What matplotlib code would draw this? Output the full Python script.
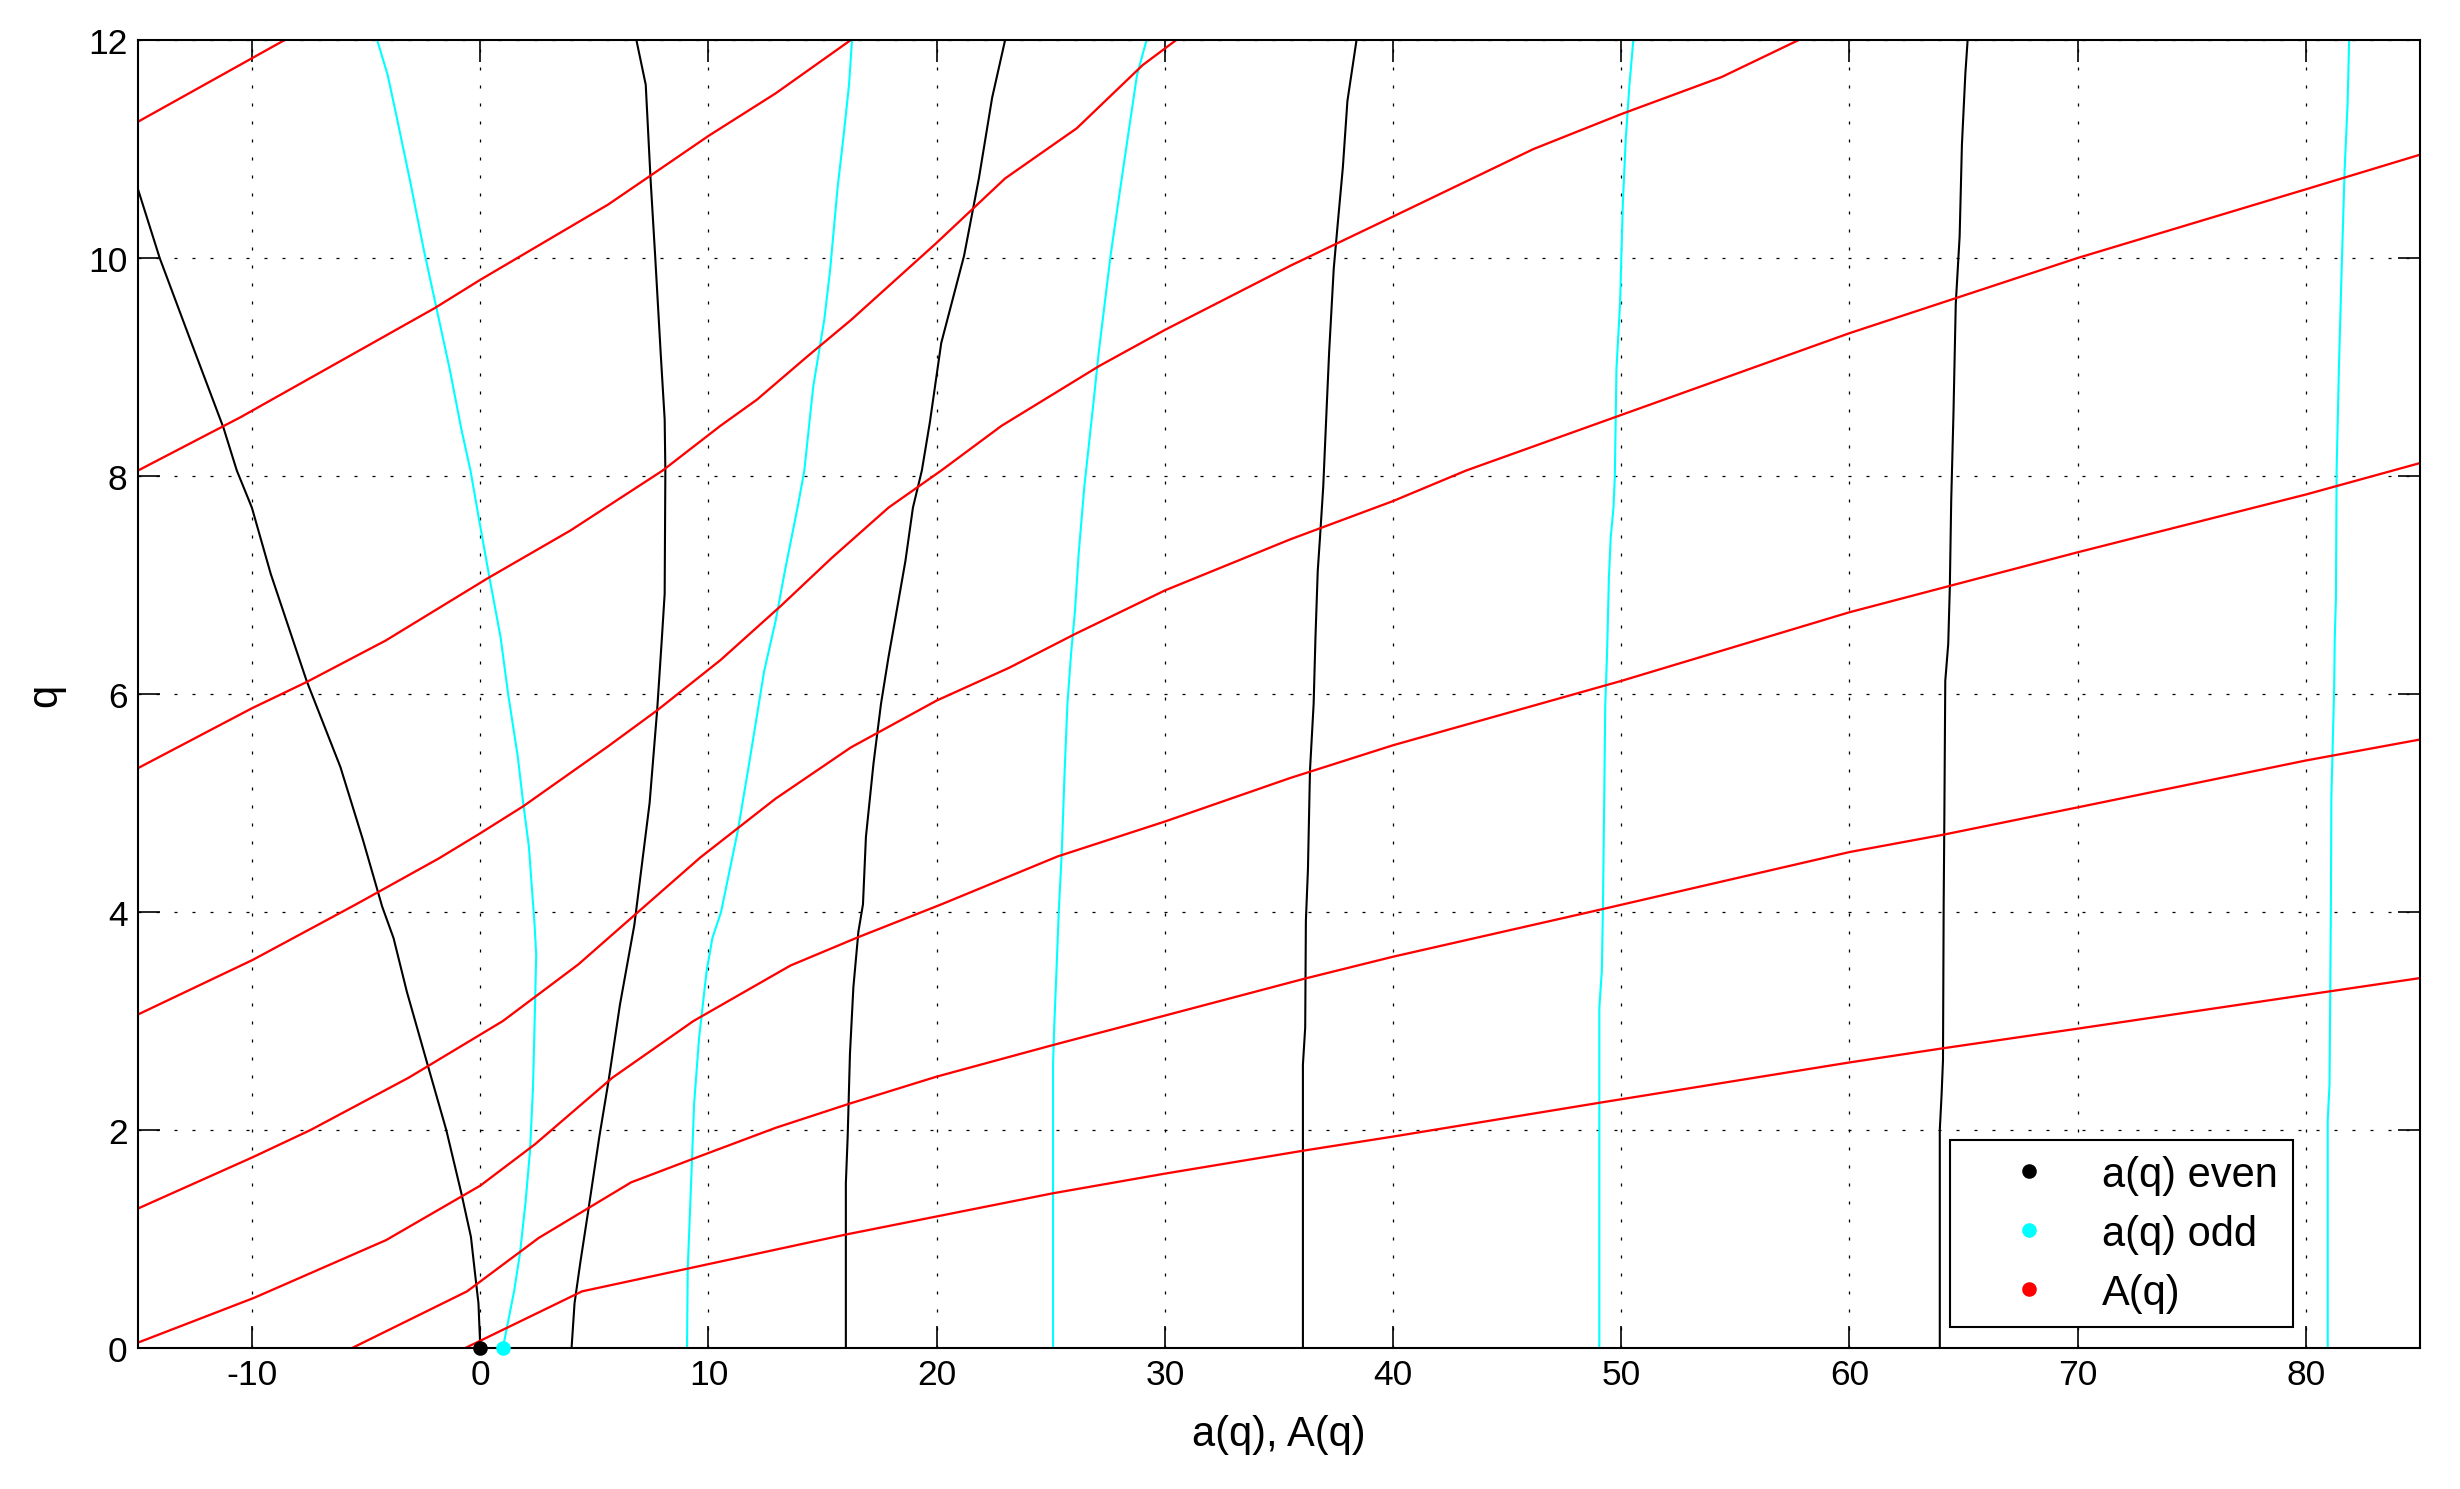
import matplotlib
matplotlib.use("Agg")
import matplotlib.pyplot as plt
from matplotlib.lines import Line2D

plt.rcParams['font.family'] = ['Liberation Sans', 'DejaVu Sans']
plt.rcParams['axes.unicode_minus'] = False

# ------------------------------------------------------------
# values, as (a, q) pairs
# ------------------------------------------------------------
# a(q) even : characteristic values a0, a2, a4, a6, a8
even_a0 = [(0, 0), (-0.08, 0.41), (-0.25, 0.72), (-0.41, 1.02), (-0.83, 1.42), (-1.49, 2.0),
           (-2.31, 2.6), (-3.22, 3.27), (-3.8, 3.76), (-4.3, 4.05), (-5.14, 4.66), (-6.13, 5.33),
           (-7.61, 6.12), (-9.18, 7.1), (-10.01, 7.71), (-10.67, 8.05), (-11.25, 8.44),
           (-12.8, 9.3), (-14.05, 10.0), (-15.0, 10.63)]
even_a2 = [(4.0, 0), (4.13, 0.41), (4.38, 0.78), (4.71, 1.23), (5.21, 1.93), (5.62, 2.45),
           (6.12, 3.15), (6.75, 3.88), (7.42, 5.0), (7.75, 5.85), (7.96, 6.52), (8.08, 6.92),
           (8.11, 8.05), (8.08, 8.52), (7.91, 9.11), (7.66, 10.03), (7.46, 10.73), (7.25, 11.59),
           (6.84, 12.0)]
even_a4 = [(16.02, 0), (16.02, 1.51), (16.1, 1.94), (16.2, 2.7), (16.35, 3.31), (16.57, 3.82),
           (16.77, 4.07), (16.9, 4.69), (17.23, 5.36), (17.56, 5.91), (17.89, 6.34), (18.22, 6.73),
           (18.63, 7.22), (18.96, 7.71), (19.35, 8.05), (19.7, 8.49), (20.2, 9.22), (21.2, 10.02),
           (21.85, 10.73), (22.43, 11.47), (23.0, 12.0)]
even_a6 = [(36.05, 0), (36.05, 2.6), (36.15, 2.94), (36.18, 3.92), (36.27, 4.39), (36.36, 5.3),
           (36.52, 5.91), (36.6, 6.52), (36.7, 7.13), (36.8, 7.44), (36.94, 7.9), (37.1, 8.67),
           (37.2, 9.14), (37.4, 9.9), (37.6, 10.37), (37.8, 10.83), (38.0, 11.44), (38.4, 12.0)]
even_a8 = [(63.96, 0), (63.96, 2.0), (64.04, 2.33), (64.1, 2.64), (64.13, 4.07), (64.16, 4.87),
           (64.2, 6.12), (64.33, 6.46), (64.4, 6.98), (64.46, 7.77), (64.56, 8.58), (64.66, 9.58),
           (64.83, 10.2), (64.93, 11.04), (65.08, 11.69), (65.18, 12.0)]

# a(q) odd : characteristic values a1, a3, a5, a7, a9
odd_a1 = [(0.99, 0), (1.49, 0.53), (1.74, 0.87), (1.98, 1.33), (2.18, 1.81), (2.31, 2.39),
          (2.4, 3.15), (2.45, 3.61), (2.38, 3.88), (2.13, 4.6), (1.88, 5.0), (1.64, 5.43),
          (1.22, 6.0), (0.89, 6.52), (0.4, 7.07), (-0.02, 7.56), (-0.43, 8.05), (-0.84, 8.44),
          (-1.34, 8.98), (-1.92, 9.54), (-2.49, 10.09), (-3.07, 10.7), (-3.65, 11.28),
          (-4.06, 11.68), (-4.52, 12.0)]
odd_a3 = [(9.06, 0), (9.09, 0.72), (9.26, 1.63), (9.37, 2.24), (9.59, 2.85), (9.92, 3.46),
          (10.17, 3.76), (10.55, 4.0), (11.29, 4.75), (11.78, 5.36), (12.44, 6.21), (12.94, 6.67),
          (13.35, 7.13), (13.93, 7.74), (14.2, 8.05), (14.59, 8.82), (15.08, 9.44), (15.33, 9.89),
          (15.66, 10.65), (15.91, 11.1), (16.16, 11.59), (16.29, 12.0)]
odd_a5 = [(25.1, 0), (25.1, 2.6), (25.15, 2.94), (25.25, 3.46), (25.35, 4.0), (25.48, 4.54),
          (25.61, 5.3), (25.73, 5.91), (25.89, 6.37), (26.06, 6.76), (26.22, 7.28), (26.47, 7.9),
          (26.87, 8.67), (27.1, 9.13), (27.62, 10.02), (27.95, 10.5), (28.37, 11.1),
          (28.78, 11.68), (29.2, 12.0)]
odd_a7 = [(49.04, 0), (49.04, 3.12), (49.1, 3.31), (49.15, 3.46), (49.2, 4.07), (49.25, 4.96),
          (49.3, 5.9), (49.38, 6.38), (49.46, 7.07), (49.54, 7.44), (49.66, 7.71), (49.72, 8.0),
          (49.79, 8.98), (49.95, 9.59), (50.07, 10.5), (50.2, 11.1), (50.36, 11.59), (50.53, 12.0)]
odd_a9 = [(80.96, 0), (80.96, 2.09), (81.04, 2.42), (81.1, 4.07), (81.12, 5.05), (81.24, 6.03),
          (81.27, 6.52), (81.32, 6.88), (81.35, 8.05), (81.45, 8.98), (81.57, 9.89), (81.7, 10.8),
          (81.83, 11.41), (81.9, 12.0)]

# A(q)
big_a1 = [(-0.66, 0), (4.46, 0.52), (15.99, 1.04), (25.1, 1.42), (30.0, 1.6), (36.05, 1.81),
          (40.0, 1.94), (49.04, 2.25), (60.0, 2.62), (64.1, 2.75), (70.0, 2.93), (80.0, 3.24),
          (85.2, 3.4)]
big_a2 = [(-5.62, 0), (-0.58, 0.52), (2.56, 1.01), (6.61, 1.52), (9.5, 1.75), (12.94, 2.02),
          (16.15, 2.24), (20.0, 2.49), (25.1, 2.78), (30.0, 3.05), (36.15, 3.39), (40.0, 3.59),
          (49.04, 4.02), (60.0, 4.55), (64.13, 4.71), (70.0, 4.96), (80.0, 5.39), (85.2, 5.59)]
big_a3 = [(-15.0, 0.05), (-9.92, 0.46), (-4.13, 0.99), (0.0, 1.49), (2.4, 1.87), (5.79, 2.48),
          (9.34, 3.0), (13.6, 3.51), (16.57, 3.77), (20.2, 4.07), (25.3, 4.51), (30.0, 4.83),
          (35.5, 5.23), (40.0, 5.53), (50.0, 6.12), (60.0, 6.75), (70.0, 7.3), (80.0, 7.83),
          (85.2, 8.13)]
big_a4 = [(-15.0, 1.28), (-9.98, 1.75), (-7.44, 2.0), (-3.14, 2.48), (0.99, 3.0), (4.3, 3.52),
          (6.26, 3.88), (9.64, 4.5), (11.29, 4.77), (12.94, 5.04), (16.24, 5.51), (20.0, 5.94),
          (23.17, 6.24), (26.06, 6.55), (30.0, 6.95), (35.51, 7.42), (40.0, 7.77), (43.2, 8.05),
          (50.0, 8.56), (60.0, 9.31), (70.0, 10.0), (80.0, 10.63), (85.2, 10.96)]
big_a5 = [(-15.0, 3.06), (-9.98, 3.56), (-5.45, 4.07), (-1.83, 4.49), (-0.02, 4.72), (1.88, 4.97),
          (5.6, 5.52), (7.75, 5.85), (10.52, 6.31), (13.18, 6.81), (15.41, 7.25), (17.89, 7.71),
          (20.2, 8.05), (22.84, 8.46), (27.13, 9.01), (30.0, 9.34), (35.51, 9.93), (40.0, 10.38),
          (46.16, 11.0), (50.0, 11.32), (54.4, 11.66), (57.78, 12.0)]
big_a6 = [(-15.0, 5.32), (-10.0, 5.87), (-7.61, 6.11), (-4.15, 6.49), (0.31, 7.06), (3.95, 7.5),
          (7.99, 8.05), (10.52, 8.46), (12.12, 8.7), (14.35, 9.1), (16.24, 9.43), (19.95, 10.13),
          (23.0, 10.73), (26.14, 11.19), (29.03, 11.77), (30.5, 12.0)]
big_a7 = [(-15.0, 8.05), (-10.5, 8.54), (-2.0, 9.54), (0.0, 9.8), (5.6, 10.49), (7.42, 10.75),
          (10.0, 11.12), (12.94, 11.51), (16.24, 12.0)]
big_a8 = [(-15.0, 11.25), (-8.57, 12.0)]

even_curves = [even_a0, even_a2, even_a4, even_a6, even_a8]
odd_curves = [odd_a1, odd_a3, odd_a5, odd_a7, odd_a9]
big_curves = [big_a1, big_a2, big_a3, big_a4, big_a5, big_a6, big_a7, big_a8]

x_ticks = [-10, 0, 10, 20, 30, 40, 50, 60, 70, 80]
y_ticks = [0, 2, 4, 6, 8, 10, 12]
legend_labels = ['a(q) even', 'a(q) odd', 'A(q)']

TICK_FONT = 17
LABEL_FONT = 20
RED = '#ff0000'
CYAN = '#00ffff'


def xy(curve):
    return [p[0] for p in curve], [p[1] for p in curve]


fig = plt.figure(figsize=(16.4, 9.9333), dpi=150)
ax = fig.add_axes([0.0561, 0.0946, 0.9276, 0.8779])

for c in even_curves:
    x, q = xy(c)
    ax.plot(x, q, color='black', lw=1.0)
for c in odd_curves:
    x, q = xy(c)
    ax.plot(x, q, color=CYAN, lw=1.0)
for c in big_curves:
    x, q = xy(c)
    ax.plot(x, q, color=RED, lw=1.1)

# starting points at q = 0
ax.plot(even_a0[0][0], even_a0[0][1], 'o', color='black', ms=6, clip_on=False, zorder=5)
ax.plot(odd_a1[0][0], odd_a1[0][1], 'o', color=CYAN, ms=6, clip_on=False, zorder=5)

ax.set_xlim(-15, 85)
ax.set_ylim(0, 12)
ax.set_xticks(x_ticks)
ax.set_yticks(y_ticks)
ax.tick_params(direction='in', length=10.5, width=0.8, top=True, right=True,
               labelsize=TICK_FONT, pad=5)
for s in ax.spines.values():
    s.set_linewidth(1.0)
ax.grid(True, color='black', linestyle=(0, (2.4, 12)), linewidth=0.6)

ax.set_xlabel('a(q), A(q)', fontsize=LABEL_FONT, labelpad=11)
ax.set_ylabel('q', fontsize=LABEL_FONT, labelpad=11)

handles = [Line2D([], [], marker='o', ls='none', color=c, ms=6)
           for c in ['black', CYAN, RED]]
leg = ax.legend(handles, legend_labels, loc='lower right', bbox_to_anchor=(0.9443, 0.016),
                borderaxespad=0, fontsize=LABEL_FONT, frameon=True, fancybox=False,
                framealpha=1, edgecolor='black', handlelength=3.1, handletextpad=0.2,
                borderpad=0.35, labelspacing=0.45)
leg.get_frame().set_linewidth(1.0)

fig.savefig('out.png', dpi=150)
